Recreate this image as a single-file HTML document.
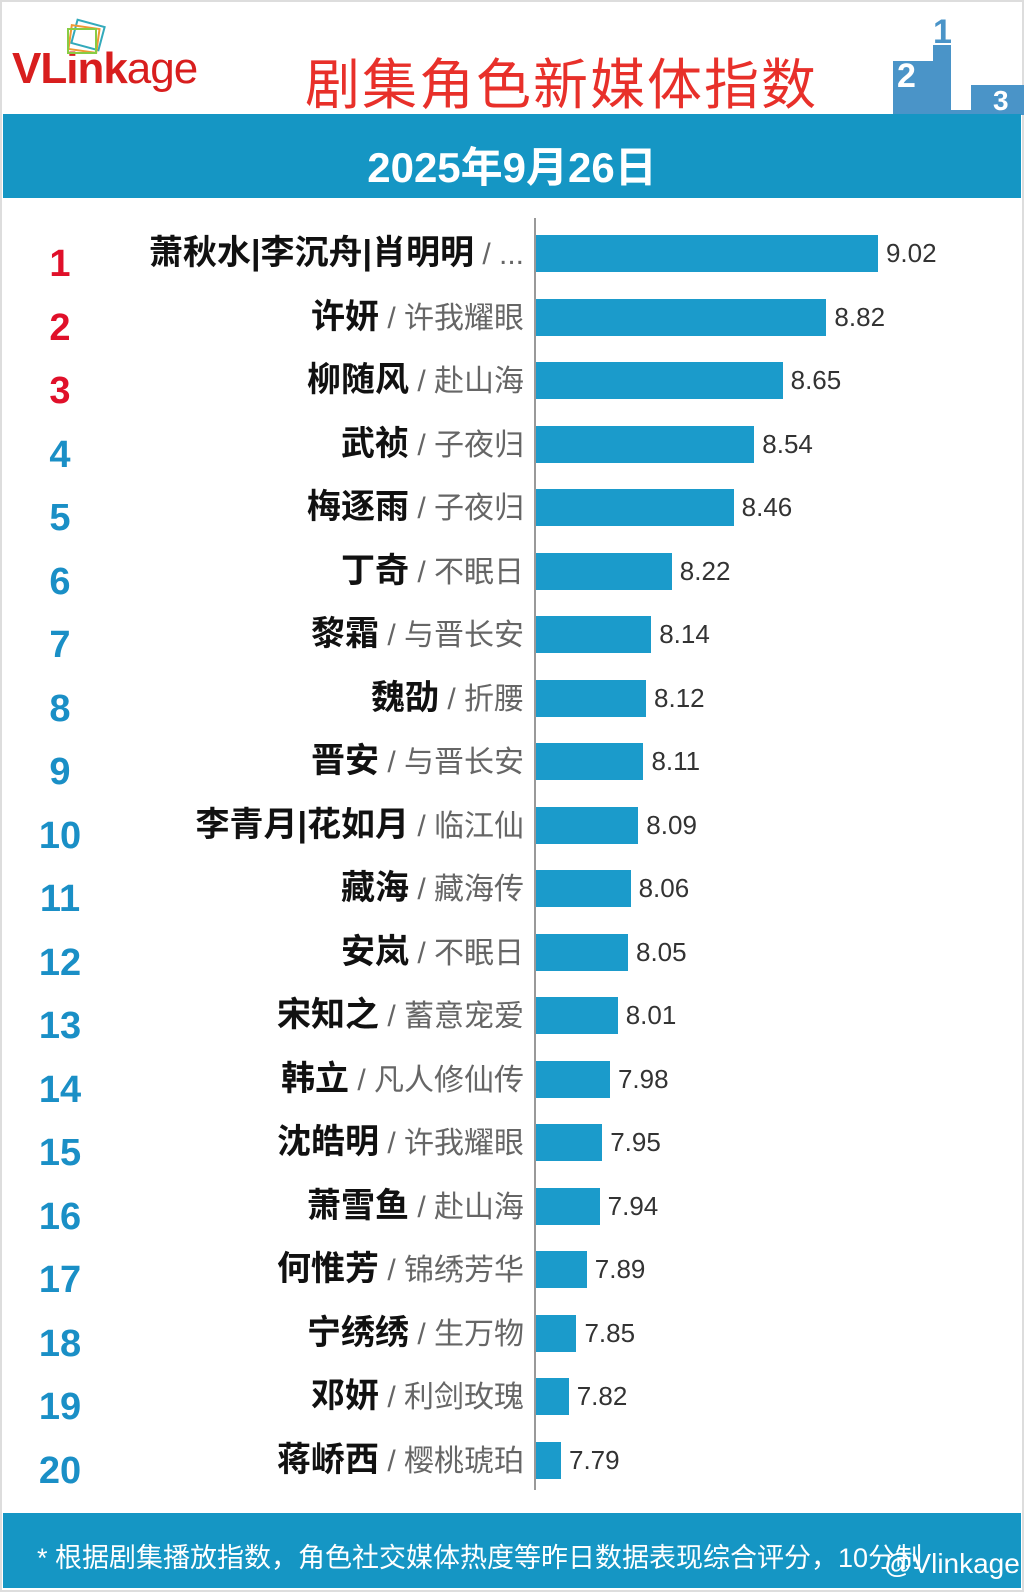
<!DOCTYPE html><html><head><meta charset="utf-8"><style>
body{margin:0;width:1024px;height:1592px;position:relative;background:#fff;font-family:"Liberation Sans","Noto Sans CJK SC",sans-serif;overflow:hidden}
.frame{position:absolute;left:0;top:0;width:1020px;height:1588px;border:2px solid #ddd}
.band{position:absolute;left:3px;width:1018px;background:#1596c4}
.r{position:absolute;left:18px;width:84px;text-align:center;font-weight:bold;font-size:38px;line-height:40px}
.n{position:absolute;right:500px;text-align:right;white-space:nowrap;line-height:40px;font-size:34px;font-weight:bold;color:#111}
.n span{font-weight:normal;color:#666;font-size:30px}
.b{position:absolute;left:536px;height:37px;background:#1b9bcb}
.v{position:absolute;font-size:26px;color:#333;line-height:37px}
</style></head><body>
<div class="frame"></div>
<div style="position:absolute;left:12px;top:44px;font-size:44px;font-weight:bold;color:#d81e1e;letter-spacing:-1px">VLink<span style="font-weight:normal">age</span></div>
<svg style="position:absolute;left:60px;top:15px" width="52" height="45"><g fill="none" stroke-width="2"><rect x="14" y="8" width="28" height="24" stroke="#3ab" transform="rotate(15 28 20)"/><rect x="10" y="12" width="28" height="24" stroke="#e93" transform="rotate(8 24 24)"/><rect x="8" y="14" width="28" height="24" stroke="#8c4"/></g></svg>
<div style="position:absolute;left:305px;top:40px;font-size:55px;color:#e8302a;letter-spacing:2px">剧集角色新媒体指数</div>
<svg style="position:absolute;left:893px;top:15px" width="131" height="100"><path d="M0 100V46h40V30h18v65h20V70h53v30z" fill="#4a94c8"/><text x="4" y="72" font-size="34" font-weight="bold" fill="#fff">2</text><text x="40" y="28" font-size="34" font-weight="bold" fill="#4a94c8">1</text><text x="100" y="95" font-size="28" font-weight="bold" fill="#fff">3</text></svg>
<div class="band" style="top:114px;height:84px"></div>
<div style="position:absolute;left:0;width:1024px;top:134px;text-align:center;font-size:42px;color:#fff;font-weight:bold">2025年9月26日</div>
<div style="position:absolute;left:534px;top:218px;width:2px;height:1272px;background:#999"></div>
<div id="rows"></div>
<div class="band" style="top:1513px;height:75px"></div>
<div style="position:absolute;left:37px;top:1536px;font-size:27px;color:#fff;white-space:nowrap">* 根据剧集播放指数，角色社交媒体热度等昨日数据表现综合评分，10分制</div>
<div style="position:absolute;left:884px;top:1548px;font-size:28px;color:#fff">@Vlinkage</div>
<script>
var d=[["萧秋水|李沉舟|肖明明","...",9.02],["许妍","许我耀眼",8.82],["柳随风","赴山海",8.65],["武祯","子夜归",8.54],["梅逐雨","子夜归",8.46],["丁奇","不眠日",8.22],["黎霜","与晋长安",8.14],["魏劭","折腰",8.12],["晋安","与晋长安",8.11],["李青月|花如月","临江仙",8.09],["藏海","藏海传",8.06],["安岚","不眠日",8.05],["宋知之","蓄意宠爱",8.01],["韩立","凡人修仙传",7.98],["沈皓明","许我耀眼",7.95],["萧雪鱼","赴山海",7.94],["何惟芳","锦绣芳华",7.89],["宁绣绣","生万物",7.85],["邓妍","利剑玫瑰",7.82],["蒋峤西","樱桃琥珀",7.79]];
var h="";d.forEach(function(x,i){var c=253+i*63.5;var w=(x[2]-7.693)*257.7;
h+='<div class="r" style="top:'+(c-9)+'px;color:'+(i<3?'#e0102a':'#1a8fc6')+'">'+(i+1)+'</div>';
h+='<div class="n" style="top:'+(c-20)+'px">'+x[0]+'<span> / '+x[1]+'</span></div>';
h+='<div class="b" style="top:'+(c-18)+'px;width:'+w+'px"></div>';
h+='<div class="v" style="top:'+(c-18)+'px;left:'+(544+w)+'px">'+x[2].toFixed(2)+'</div>';});
document.getElementById("rows").innerHTML=h;
</script></body></html>
